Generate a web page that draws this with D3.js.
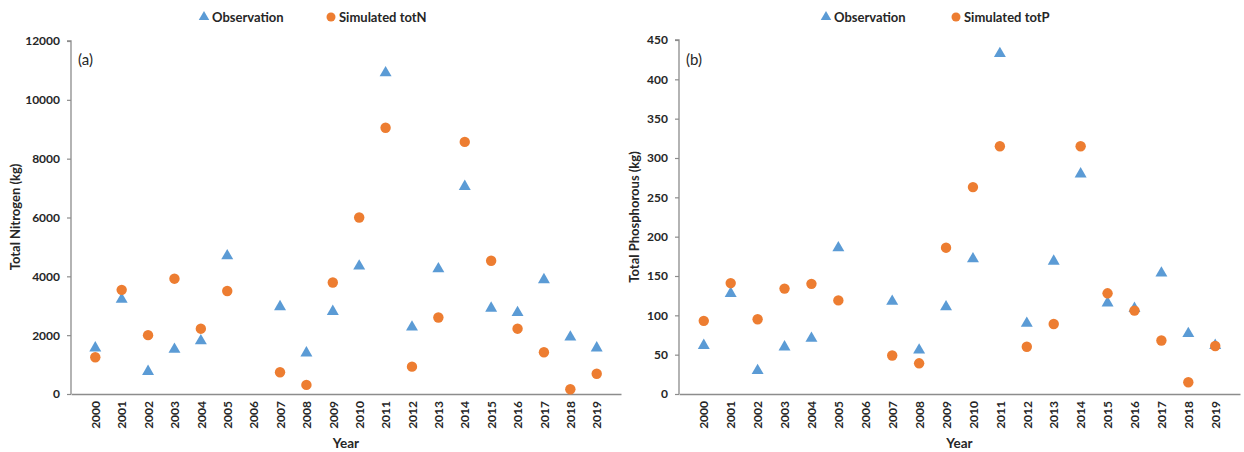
<!DOCTYPE html>
<html><head><meta charset="utf-8">
<script src="https://cdn.jsdelivr.net/npm/d3@7"></script>
<style>
html,body{margin:0;padding:0;background:#fff;}
svg text{font-family:Lato,"Open Sans",sans-serif;}
</style></head>
<body><svg id="chart" width="1244" height="452"></svg>
<script>
const years = ["2000","2001","2002","2003","2004","2005","2006","2007","2008","2009","2010","2011","2012","2013","2014","2015","2016","2017","2018","2019"];
const obsN = [1600,3250,800,1550,1840,4730,null,3000,1430,2840,4380,10950,2310,4290,7090,2950,2800,3920,1970,1600];
const simN = [1250,3540,2000,3920,2220,3500,null,740,310,3790,6000,9050,930,2600,8570,4530,2220,1420,160,690];
const obsP = [63,129,31,61,72,187,null,119,57,112,173,434,91,170,281,117,110,155,78,63];
const simP = [93,141,95,134,140,119,null,49,39,186,263,315,60,89,315,128,106,68,15,61];
const ticksN = [0,2000,4000,6000,8000,10000,12000];
const ticksP = [0,50,100,150,200,250,300,350,400,450];

const BLUE = "#5B9BD5", ORANGE = "#ED7D31", AXIS = "#8c8c8c", TXT = "#262626";
const svg = d3.select("#chart");

function panel(o){
  const g = svg.append("g");
  const x = d3.scalePoint().domain(years).range([o.x0, o.x1]).padding(0.92);
  const y = d3.scaleLinear().domain([0, o.ymax]).range([394, o.ytop]);

  // y axis
  const ya = g.append("g").attr("transform", `translate(${o.x0},0)`)
    .call(d3.axisLeft(y).tickValues(o.ticks).tickFormat(d3.format("d")).tickSize(4).tickPadding(7));
  ya.select(".domain").attr("stroke", AXIS).attr("stroke-width",1.3).attr("d", `M-4,${y(o.ymax)}H0V394`);
  ya.selectAll(".tick line").attr("stroke", AXIS).attr("stroke-width",1.2);
  ya.selectAll(".tick text").attr("fill", TXT).style("font-size","12px").style("font-weight","bold");

  // x axis
  const xa = g.append("g").attr("transform", `translate(0,394)`)
    .call(d3.axisBottom(x).tickSize(0).tickPadding(0));
  xa.select(".domain").attr("stroke", AXIS).attr("stroke-width",1.3);
  xa.selectAll(".tick text").attr("fill", TXT).style("font-size","12px").style("font-weight","bold")
    .attr("transform","rotate(-90)").attr("text-anchor","end").attr("x",-7).attr("y",0).attr("dy","0.35em");

  // titles
  g.append("text").attr("transform", `translate(${o.ytx},217) rotate(-90)`)
    .attr("text-anchor","middle").attr("fill",TXT).style("font-size","13px").style("font-weight","bold").text(o.ytitle);
  g.append("text").attr("x",(o.x0+o.x1)/2).attr("y",448).attr("text-anchor","middle")
    .attr("fill",TXT).style("font-size","13.5px").style("font-weight","bold").text("Year");
  g.append("text").attr("x",o.x0+7).attr("y",65).attr("fill",TXT).style("font-size","15px").text(o.label);

  // points
  const tri = d3.symbol(d3.symbolTriangle, 62);
  g.append("g").selectAll("path").data(years.map((k,i)=>({k,v:o.obs[i]})).filter(d=>d.v!=null))
    .join("path").attr("d",tri).attr("transform",d=>`translate(${x(d.k)},${y(d.v)+1})`).attr("fill",BLUE);
  g.append("g").selectAll("circle").data(years.map((k,i)=>({k,v:o.sim[i]})).filter(d=>d.v!=null))
    .join("circle").attr("cx",d=>x(d.k)).attr("cy",d=>y(d.v)).attr("r",5.2).attr("fill",ORANGE);

  // legend
  const lg = g.append("g").attr("transform",`translate(${o.legX},17)`);
  lg.append("path").attr("d", d3.symbol(d3.symbolTriangle, 48)).attr("fill",BLUE).attr("transform","translate(0,0)");
  lg.append("text").attr("x",8).attr("y",0).attr("dy","0.35em").attr("fill",TXT).style("font-size","13px").style("font-weight","bold").text("Observation");
  lg.append("circle").attr("cx",o.legGap).attr("cy",0).attr("r",4.5).attr("fill",ORANGE);
  lg.append("text").attr("x",o.legGap+8).attr("y",0).attr("dy","0.35em").attr("fill",TXT).style("font-size","13px").style("font-weight","bold").text(o.simName);
}

panel({x0:71, x1:621, ytop:41, ymax:12000, ticks:ticksN, obs:obsN, sim:simN, ytitle:"Total Nitrogen (kg)", ytx:20, label:"(a)", legX:204, legGap:127, simName:"Simulated totN"});
panel({x0:679, x1:1240, ytop:40, ymax:450, ticks:ticksP, obs:obsP, sim:simP, ytitle:"Total Phosphorous (kg)", ytx:639, label:"(b)", legX:826, legGap:130, simName:"Simulated totP"});
</script></body></html>
